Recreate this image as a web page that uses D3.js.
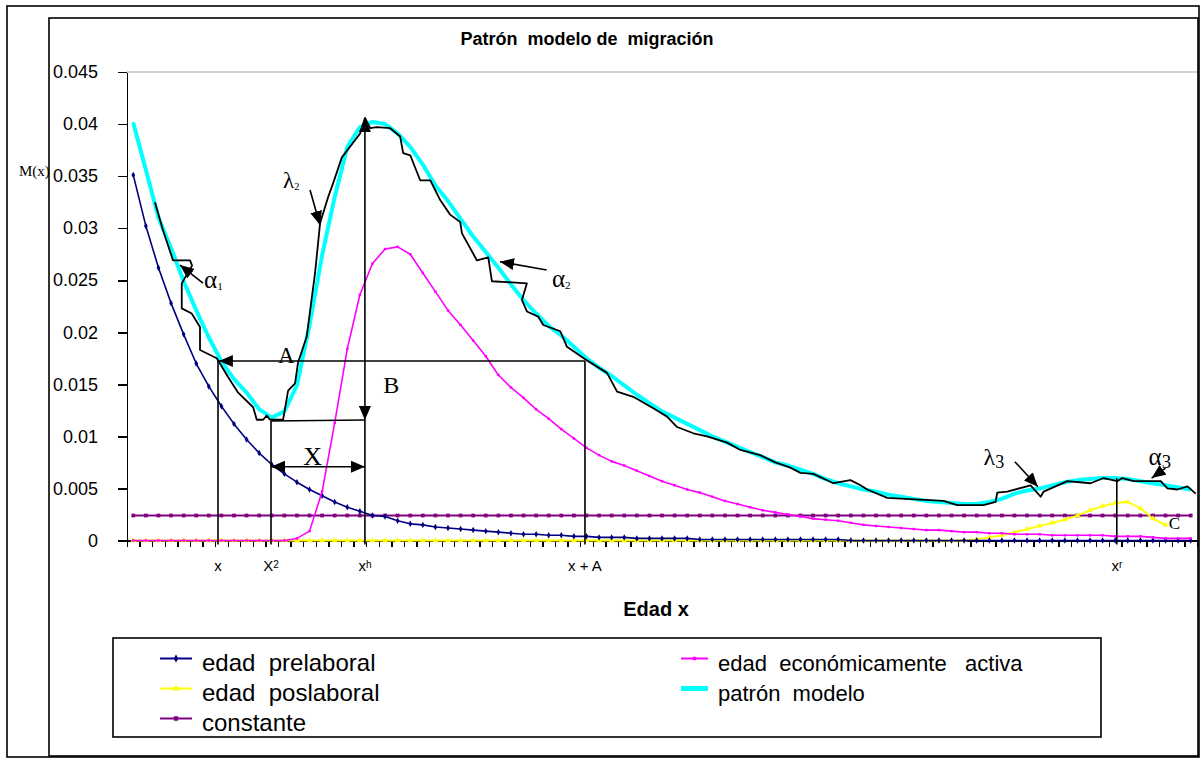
<!DOCTYPE html>
<html lang="es">
<head>
<meta charset="utf-8">
<title>Patrón modelo de migración</title>
<script src="https://d3js.org/d3.v7.min.js"></script>
<style>
  body { margin: 0; background: #fff; }
  svg { display: block; font-family: Arial, "Liberation Sans", sans-serif; }
  .axis path, .axis line { stroke: #000; shape-rendering: crispEdges; }
  .axis text { font-family: Arial, "Liberation Sans", sans-serif; fill: #000; }
  .serif { font-family: "Times New Roman", "Liberation Serif", serif; fill: #000; }
</style>
</head>
<body>
<div id="chart"></div>
<script>
// ---- data (ages 0..84, one category per age) ----
var ages = d3.range(0, 85);

var prelaboral = [
  0.0351,0.0302,0.0262,0.0228,0.0198,0.0170,0.0148,0.0129,0.0112,0.0097,
  0.0084,0.0073,0.0064,0.0056,0.0049,0.0043,0.0037,0.0032,0.0028,0.0024,
  0.0023,0.0019,0.0016,0.0015,0.0013,0.0012,0.0011,0.0010,0.0009,0.0008,
  0.0007,0.0006,0.0006,0.0005,0.0005,0.0004,0.0004,0.0003,0.0003,0.0003,
  0.0002,0.0002,0.0002,0.0002,0.0002,0.0001,0.0001,0.0001,0.0001,0.0001,
  0.0001,0.0001,0.0001,0.0001,0.0001,0.0001,0.0001,0,0,0,
  0,0,0,0,0,0,0,0,0,0,
  0,0,0,0,0,0,0,0,0,0,
  0,0,0,0,0];

var activa = [
  0,0,0,0,0,0,0,0,0,0,
  0,0,0,0.0002,0.0009,0.0047,0.0113,0.0184,0.0236,0.0266,
  0.0280,0.0282,0.0275,0.0257,0.0239,0.0221,0.0207,0.0192,0.0177,0.0159,
  0.0147,0.0137,0.0126,0.0117,0.0107,0.0098,0.0089,0.0082,0.0076,0.0072,
  0.0067,0.0062,0.0057,0.0053,0.0049,0.0046,0.0042,0.0038,0.0035,0.0032,
  0.0029,0.0027,0.0025,0.0023,0.0021,0.0020,0.0019,0.0017,0.0015,0.0014,
  0.0013,0.0012,0.0011,0.0010,0.0010,0.0009,0.0008,0.0008,0.0007,0.0007,
  0.0006,0.0006,0.0006,0.0005,0.0005,0.0005,0.0005,0.0005,0.0004,0.0004,
  0.0004,0.0003,0.0002,0.0002,0.0002];

var poslaboral = [
  0,0,0,0,0,0,0,0,0,0,
  0,0,0,0,0,0,0,0,0,0,
  0,0,0,0,0,0,0,0,0,0,
  0,0,0,0,0,0,0,0,0,0,
  0,0,0,0,0,0,0,0,0,0,
  0,0,0,0,0,0,0,0,0,0,
  0,0,0,0,0,0,0,0.0001,0.0003,0.0005,
  0.0008,0.0011,0.0014,0.0017,0.0020,0.0024,0.0029,0.0033,0.0036,0.0037,
  0.0031,0.0021,0.0015,null,null];

var constante = ages.map(function() { return 0.0024; });

var patron = [
  0.0401,0.0356,0.0310,0.0281,0.0249,0.0221,0.0195,0.0172,0.0155,0.0142,
  0.0126,0.0118,0.0124,0.0149,0.0207,0.0274,0.0330,0.0378,0.0397,0.0402,
  0.0400,0.0391,0.0378,0.0361,0.0341,0.0326,0.0309,0.0292,0.0277,0.0262,
  0.0246,0.0231,0.0218,0.0206,0.0197,0.0186,0.0175,0.0166,0.0158,0.0149,
  0.0140,0.0132,0.0124,0.0118,0.0112,0.0106,0.0100,0.0095,0.0090,0.0085,
  0.0080,0.0075,0.0072,0.0068,0.0064,0.0059,0.0055,0.0052,0.0049,0.0047,
  0.0044,0.0042,0.0040,0.0038,0.0037,0.0036,0.0035,0.0035,0.0037,0.0040,
  0.0045,0.0048,0.0050,0.0053,0.0056,0.0058,0.0059,0.0060,0.0060,0.0059,
  0.0057,0.0055,0.0053,0.0051,0.0049];

// observed (hand traced) schedule: [age, value]
var observado = [
  [1.72,0.0325],[2.36,0.0298],[3.16,0.0269],[4.51,0.0269],[4.67,0.0264],[3.85,0.0247],
  [3.85,0.0223],[4.64,0.0218],[5.30,0.0205],[5.30,0.0183],[6.63,0.0175],[7.53,0.0157],
  [8.33,0.0142],[9.52,0.0128],[9.81,0.0116],[10.31,0.0116],[10.60,0.0120],[10.87,0.0116],
  [11.90,0.0116],[12.30,0.0144],[12.85,0.0151],[13.09,0.0171],[13.78,0.0196],[14.44,0.0257],
  [14.84,0.0305],[15.48,0.0330],[15.87,0.0343],[16.57,0.0368],[18.02,0.0391],[18.41,0.0406],
  [18.81,0.0396],[19.35,0.0397],[20.41,0.0396],[21.20,0.0388],[21.44,0.0372],[22.00,0.0370],
  [22.79,0.0346],[23.59,0.0346],[24.38,0.0327],[25.17,0.0313],[25.97,0.0306],[26.11,0.0295],
  [27.30,0.0269],[28.20,0.0272],[28.49,0.0249],[31.27,0.0247],[30.87,0.0231],[31.27,0.0220],
  [32.17,0.0215],[32.57,0.0207],[33.92,0.0201],[34.45,0.0186],[36.04,0.0173],[37.63,0.0161],
  [38.43,0.0143],[39.72,0.0138],[41.31,0.0127],[42.40,0.0119],[43.20,0.0109],[44.49,0.0103],
  [45.58,0.0100],[47.17,0.0094],[48.23,0.0087],[49.80,0.0082],[51.00,0.0075],[52.20,0.0070],
  [53.00,0.0065],[54.03,0.0064],[55.62,0.0055],[56.97,0.0058],[57.77,0.0053],[58.30,0.0049],
  [59.89,0.0041],[64.36,0.0038],[65.45,0.0034],[67.54,0.0034],[68.50,0.0037],[68.63,0.0046],
  [69.43,0.0047],[71.28,0.0053],[72.08,0.0042],[72.32,0.0047],[74.20,0.0057],[76.05,0.0055],
  [77.08,0.0060],[78.17,0.0057],[78.57,0.0060],[79.47,0.0057],[81.62,0.0057],[82.15,0.0050],
  [82.94,0.0049],[83.74,0.0052],[84.40,0.0045]];

var yTicks = [0, 0.005, 0.01, 0.015, 0.02, 0.025, 0.03, 0.035, 0.04, 0.045];
var yTickLabels = ["0", "0.005", "0.01", "0.015", "0.02", "0.025", "0.03", "0.035", "0.04", "0.045"];

var legendNames = ["edad  prelaboral", "edad  poslaboral", "constante",
                   "edad  económicamente   activa", "patrón  modelo"];

// ---- layout ----
var W = 1200, H = 758;
var svg = d3.select("#chart").append("svg").attr("width", W).attr("height", H);

var x = d3.scaleLinear().domain([-0.5, ages.length - 0.5]).range([127, 1197]);
var y = d3.scaleLinear().domain([0, 0.045]).range([540.5, 72]);

// frames
svg.append("rect").attr("x", 7).attr("y", 6).attr("width", 1192).attr("height", 751)
  .attr("fill", "#fff").attr("stroke", "#000").attr("stroke-width", 1.6);
svg.append("rect").attr("x", 49).attr("y", 18).attr("width", 1149).attr("height", 738)
  .attr("fill", "#fff").attr("stroke", "#000").attr("stroke-width", 1.6);

// title
svg.append("text").attr("x", 587).attr("y", 45).attr("text-anchor", "middle")
  .style("font-weight", "bold").style("font-size", "18px").style("white-space", "pre")
  .text("Patrón  modelo de  migración");

// top grid line
svg.append("line").attr("x1", x.range()[0]).attr("x2", x.range()[1])
  .attr("y1", y(0.045)).attr("y2", y(0.045))
  .attr("stroke", "#c0c0c0").attr("stroke-width", 1.5);

// axes
var yAxis = svg.append("g").attr("class", "axis")
  .attr("transform", "translate(" + x.range()[0] + ",0)")
  .call(d3.axisLeft(y).tickValues(yTicks)
        .tickFormat(function(d, i) { return yTickLabels[i]; })
        .tickSize(9).tickSizeOuter(0).tickPadding(20));
yAxis.select(".domain").attr("stroke-width", 1.6);
yAxis.selectAll("line").attr("stroke-width", 1.6);
yAxis.selectAll("text").style("font-size", "18px");

var xAxis = svg.append("g").attr("class", "axis")
  .attr("transform", "translate(0," + y(0) + ")")
  .call(d3.axisBottom(x).tickValues(d3.range(-0.5, ages.length, 1))
        .tickFormat("").tickSize(6).tickSizeOuter(0));
xAxis.select(".domain").attr("stroke-width", 1.6);
xAxis.selectAll("line").attr("stroke-width", 1.3);

svg.append("text").attr("x", 19).attr("y", 176).attr("class", "serif")
  .style("font-size", "15px").text("M(x)");

// ---- series ----
var line = d3.line()
  .defined(function(d) { return d[1] !== null; })
  .x(function(d) { return x(d[0]); })
  .y(function(d) { return y(d[1]); });

function pairs(vals) { return ages.map(function(a, i) { return [a, vals[i]]; }); }

var series = [
  {vals: constante,  color: "#800080", width: 1.8, sym: d3.symbolSquare,   size: 14},
  {vals: poslaboral, color: "#ffff00", width: 1.8, sym: d3.symbolTriangle, size: 14},
  {vals: prelaboral, color: "#000080", width: 1.6, sym: d3.symbolDiamond,  size: 12},
  {vals: activa,     color: "#ff00ff", width: 1.6, sym: d3.symbolSquare,   size: 6},
  {vals: patron,     color: "#00ffff", width: 4,   sym: d3.symbolSquare,   size: 5}
];

series.forEach(function(s) {
  var pts = pairs(s.vals);
  svg.append("path").datum(pts).attr("d", line)
    .attr("fill", "none").attr("stroke", s.color).attr("stroke-width", s.width)
    .attr("stroke-linejoin", "round");
  svg.append("g").selectAll("path")
    .data(pts.filter(function(d) { return d[1] !== null; }))
    .enter().append("path")
    .attr("d", d3.symbol().type(s.sym).size(s.size))
    .attr("transform", function(d) { return "translate(" + x(d[0]) + "," + y(d[1]) + ")"; })
    .attr("fill", s.color);
});

svg.append("path").datum(observado).attr("d", line)
  .attr("fill", "none").attr("stroke", "#000").attr("stroke-width", 1.8)
  .attr("stroke-linejoin", "round");

// ---- annotations ----
var defs = svg.append("defs");
defs.append("marker").attr("id", "head")
  .attr("viewBox", "0 -6 14 12").attr("refX", 14).attr("refY", 0)
  .attr("markerUnits", "userSpaceOnUse").attr("markerWidth", 14).attr("markerHeight", 12)
  .attr("orient", "auto-start-reverse")
  .append("path").attr("d", "M0,-6L14,0L0,6Z").attr("fill", "#000");

var yBottom = y(0) + 4;
// vertical guides: [age, top value]
var guides = [[6.73, 0.01724], [10.94, 0.01148], [18.40, 0.01157], [35.88, 0.01724], [78.13, 0.0060]];
svg.append("g").selectAll("line").data(guides).enter().append("line")
  .attr("x1", function(d) { return x(d[0]); }).attr("x2", function(d) { return x(d[0]); })
  .attr("y1", function(d) { return y(d[1]); }).attr("y2", yBottom)
  .attr("stroke", "#000").attr("stroke-width", 1.6);

// segments: [age1, v1, age2, v2, arrowStart, arrowEnd]
var segments = [
  [35.88, 0.01724, 6.80, 0.01724, false, true],   // A
  [18.40, 0.01157, 18.40, 0.04058, true, true],   // B
  [10.94, 0.00709, 18.40, 0.00709, true, true],   // X
  [10.94, 0.01148, 18.40, 0.01157, false, false], // base
  [14.04, 0.03366, 14.83, 0.0303, false, true],   // lambda 2
  [5.54, 0.02473, 3.71, 0.02646, false, true],    // alpha 1
  [32.84, 0.02598, 29.13, 0.02678, false, true],  // alpha 2
  [70.03, 0.00757, 71.86, 0.00517, false, true],  // lambda 3
  [82.00, 0.00696, 80.90, 0.0060, false, true]    // alpha 3
];
segments.forEach(function(s) {
  var l = svg.append("line")
    .attr("x1", x(s[0])).attr("y1", y(s[1])).attr("x2", x(s[2])).attr("y2", y(s[3]))
    .attr("stroke", "#000").attr("stroke-width", 1.6);
  if (s[4]) l.attr("marker-start", "url(#head)");
  if (s[5]) l.attr("marker-end", "url(#head)");
});

// serif labels: [text, sub, age, value, size]
var serifLabels = [
  ["A", "", 11.50, 0.01706, 23],
  ["B", "", 19.85, 0.01417, 24],
  ["X", "", 13.50, 0.00725, 26],
  ["C", "", 82.25, 0.00115, 17],
  ["λ", "2", 11.90, 0.03386, 23],
  ["α", "1", 5.62, 0.02425, 25],
  ["α", "2", 33.26, 0.02432, 25],
  ["λ", "3", 67.54, 0.00725, 24],
  ["α", "3", 80.65, 0.00725, 25]
];
serifLabels.forEach(function(d) {
  var t = svg.append("text").attr("class", "serif")
    .attr("x", x(d[2])).attr("y", y(d[3])).style("font-size", d[4] + "px").text(d[0]);
  if (d[1]) {
    var big = (d[1] === "3");
    t.append("tspan").attr("dy", big ? 3 : 2)
      .style("font-size", (big ? d[4] * 0.75 : d[4] * 0.45) + "px").text(d[1]);
  }
});

// x-position labels: [text, sub, age]
var xLabels = [["x", "", 6.73], ["X", "2", 10.94], ["x", "h", 18.40], ["x + A", "", 35.88], ["x", "r", 78.13]];
xLabels.forEach(function(d) {
  var t = svg.append("text").attr("x", x(d[2])).attr("y", 571)
    .attr("text-anchor", "middle").style("font-size", "15px");
  t.append("tspan").text(d[0]);
  if (d[1]) t.append("tspan").attr("dy", -3).style("font-size", "10px").text(d[1]);
});

svg.append("text").attr("x", 656).attr("y", 616).attr("text-anchor", "middle")
  .style("font-weight", "bold").style("font-size", "20px").text("Edad x");

// ---- legend ----
svg.append("rect").attr("x", 113).attr("y", 638).attr("width", 988).attr("height", 99)
  .attr("fill", "#fff").attr("stroke", "#000").attr("stroke-width", 1.6);

var legendItems = [
  {s: series[2], col: 0, row: 0}, {s: series[1], col: 0, row: 1}, {s: series[0], col: 0, row: 2},
  {s: series[3], col: 1, row: 0}, {s: series[4], col: 1, row: 1}
];
var colX = [160, 681], colW = [32, 27], colFont = [24, 22];
legendItems.forEach(function(it, i) {
  var lx = colX[it.col], ly = 658.5 + it.row * 30;
  svg.append("line").attr("x1", lx).attr("x2", lx + colW[it.col])
    .attr("y1", ly).attr("y2", ly).attr("stroke", it.s.color)
    .attr("stroke-width", it.s.width === 4 ? 5 : 2);
  svg.append("path").attr("d", d3.symbol().type(it.s.sym).size(it.s.size + 6))
    .attr("transform", "translate(" + (lx + colW[it.col] / 2) + "," + ly + ")")
    .attr("fill", it.s.color);
  svg.append("text").attr("x", lx + colW[it.col] + 10).attr("y", ly + 12)
    .style("font-size", colFont[it.col] + "px").style("white-space", "pre")
    .text(legendNames[i]);
});
</script>
</body>
</html>
